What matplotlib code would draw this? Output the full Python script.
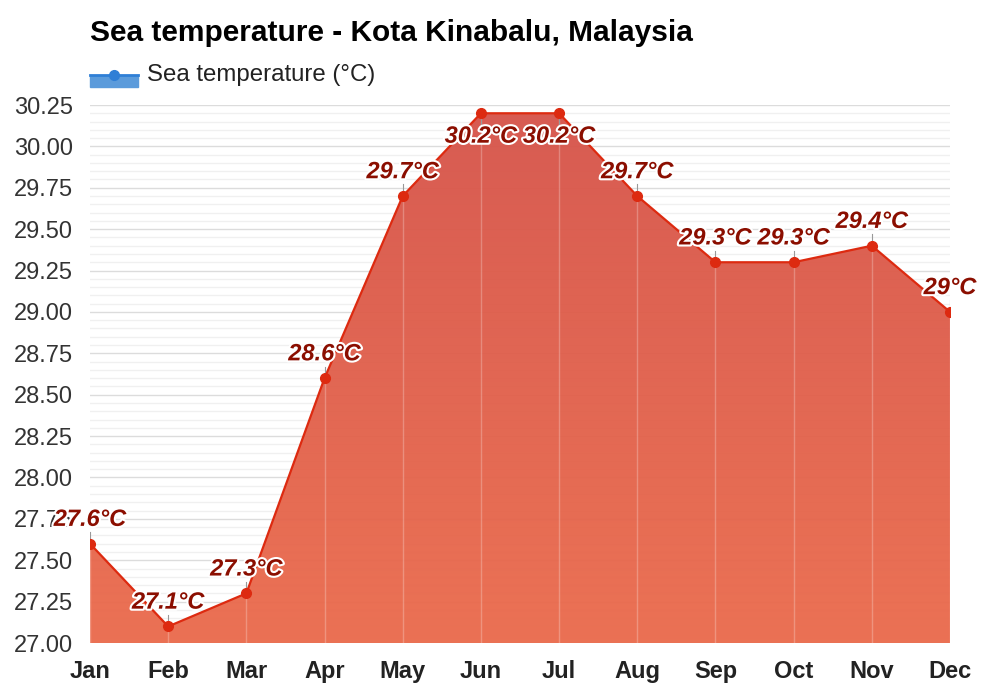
import numpy as np
import matplotlib.pyplot as plt
from matplotlib.patches import Rectangle
from matplotlib.lines import Line2D
import matplotlib.patheffects as pe

months = ['Jan', 'Feb', 'Mar', 'Apr', 'May', 'Jun', 'Jul', 'Aug', 'Sep', 'Oct', 'Nov', 'Dec']
sea_temp = [27.6, 27.1, 27.3, 28.6, 29.7, 30.2, 30.2, 29.7, 29.3, 29.3, 29.4, 29.0]
labels = ['27.6°C', '27.1°C', '27.3°C', '28.6°C', '29.7°C', '30.2°C', '30.2°C',
          '29.7°C', '29.3°C', '29.3°C', '29.4°C', '29°C']

plt.rcParams['font.family'] = ['Liberation Sans', 'DejaVu Sans']

fig = plt.figure(figsize=(10, 7), dpi=100)
ax = fig.add_axes([0.09, 0.0814, 0.86, 0.7686])
x = np.arange(len(months))
ymin, ymax = 27.0, 30.25
ax.set_xlim(0, len(months) - 1)
ax.set_ylim(ymin, ymax)
ax.set_axisbelow(True)

# grid
ax.set_yticks(np.arange(27.0, 30.26, 0.25))
ax.set_yticks(np.arange(27.0, 30.26, 0.05), minor=True)
ax.grid(axis='y', which='major', color='#dcdcdc', lw=1)
ax.grid(axis='y', which='minor', color='#f0f0f0', lw=1)
ax.tick_params(axis='y', which='both', length=0, labelsize=17, labelcolor='#333333', pad=12)
ax.tick_params(axis='x', length=0, labelsize=17, pad=12)
ax.set_xticks(x)
ax.set_xticklabels(months, fontweight='bold', color='#222222')
ax.set_yticklabels(['%.2f' % v for v in np.arange(27.0, 30.26, 0.25)])
for s in ax.spines.values():
    s.set_visible(False)

# gradient area
poly = ax.fill_between(x, sea_temp, ymin, color='none', lw=0)
grad = np.linspace(0, 1, 256).reshape(-1, 1)
top = np.array([0.84, 0.33, 0.29])
bot = np.array([0.92, 0.42, 0.30])
img = top + (bot - top) * grad[..., None]
im = ax.imshow(img, extent=[0, len(months) - 1, ymin, ymax], aspect='auto',
               origin='upper', zorder=1, alpha=0.96)
path = poly.get_paths()[0]
im.set_clip_path(path, transform=ax.transData)

for i, v in enumerate(sea_temp):
    ax.plot([i, i], [ymin, v], color='white', alpha=0.25, lw=1, zorder=2)

ax.plot(x, sea_temp, color='#dd2a10', lw=1.6, zorder=3)
ax.plot(x, sea_temp, 'o', color='#dd2a10', ms=7, zorder=4)

# data labels
for i, (v, t) in enumerate(zip(sea_temp, labels)):
    below = v >= 30.2
    ax.plot([i, i], [v, v + (-0.07 if below else 0.07)], color='#999999', lw=0.8, zorder=3)
    ax.annotate(t, (i, v), xytext=(0, -16.5 if below else 17.5), textcoords='offset points',
                ha='center', va='center', fontsize=17, fontweight='bold', style='italic',
                color='#8b0e00', zorder=5,
                path_effects=[pe.withStroke(linewidth=3, foreground='white')])

# title and legend
fig.text(0.09, 0.953, 'Sea temperature - Kota Kinabalu, Malaysia', fontsize=21.5,
         fontweight='bold', va='center', ha='left')
fig.patches.append(Rectangle((0.09, 0.876), 0.048, 0.0157, transform=fig.transFigure,
                             color='#5b9bdb', zorder=1))
fig.lines.append(Line2D([0.09, 0.138], [0.893, 0.893], transform=fig.transFigure,
                        color='#2f7fd6', lw=2))
fig.lines.append(Line2D([0.114], [0.893], transform=fig.transFigure, marker='o',
                        color='#2f7fd6', ms=7))
fig.text(0.147, 0.893, 'Sea temperature (°C)', fontsize=17.3, va='center', color='#222222')

fig.savefig('out.png', dpi=100, facecolor='white')
